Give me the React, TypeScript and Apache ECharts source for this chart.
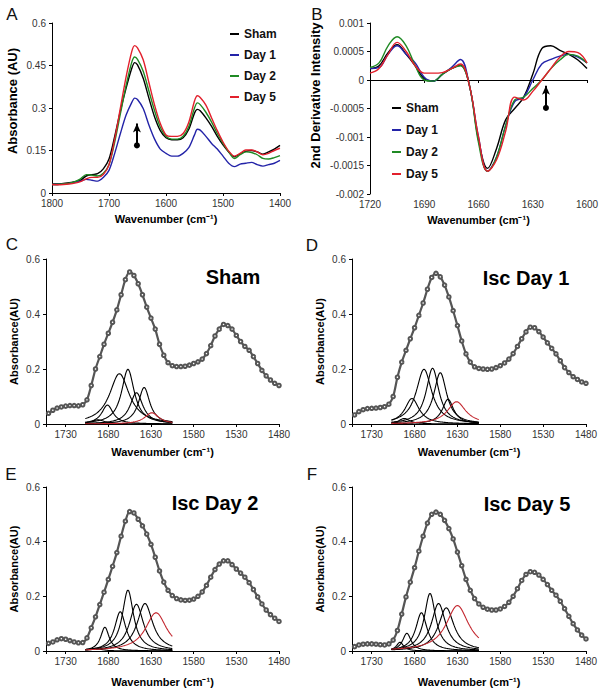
import React, { useEffect, useRef } from "react";
import * as echarts from "echarts";

const FONT = '"Liberation Sans", Arial, sans-serif';

// ---------- Panel A: absorbance spectra ----------
const WN_A = [1800, 1790, 1780, 1770, 1760, 1750, 1740, 1730, 1720, 1710, 1700, 1690, 1680, 1670, 1660, 1655, 1650, 1640, 1630, 1620, 1610, 1600, 1590, 1580, 1570, 1560, 1550, 1545, 1540, 1530, 1520, 1510, 1500, 1490, 1480, 1470, 1460, 1450, 1440, 1430, 1420, 1410, 1400];
const A_SHAM = [0.032, 0.032, 0.034, 0.036, 0.040, 0.045, 0.060, 0.065, 0.068, 0.085, 0.120, 0.200, 0.290, 0.370, 0.440, 0.460, 0.452, 0.405, 0.335, 0.268, 0.220, 0.195, 0.188, 0.188, 0.195, 0.225, 0.282, 0.295, 0.290, 0.265, 0.235, 0.200, 0.170, 0.145, 0.128, 0.138, 0.147, 0.150, 0.145, 0.137, 0.145, 0.155, 0.168];
const A_DAY1 = [0.030, 0.030, 0.032, 0.034, 0.038, 0.042, 0.048, 0.045, 0.042, 0.055, 0.080, 0.140, 0.210, 0.275, 0.320, 0.335, 0.330, 0.298, 0.240, 0.190, 0.155, 0.140, 0.130, 0.130, 0.140, 0.160, 0.205, 0.225, 0.222, 0.200, 0.175, 0.155, 0.130, 0.105, 0.093, 0.102, 0.105, 0.108, 0.100, 0.095, 0.100, 0.105, 0.115];
const A_DAY2 = [0.030, 0.030, 0.032, 0.035, 0.040, 0.050, 0.065, 0.063, 0.060, 0.070, 0.100, 0.180, 0.280, 0.380, 0.462, 0.480, 0.472, 0.430, 0.360, 0.290, 0.232, 0.200, 0.190, 0.190, 0.200, 0.235, 0.300, 0.318, 0.312, 0.285, 0.250, 0.210, 0.175, 0.145, 0.122, 0.135, 0.145, 0.143, 0.135, 0.122, 0.120, 0.125, 0.132];
const A_DAY5 = [0.030, 0.029, 0.030, 0.032, 0.035, 0.040, 0.050, 0.055, 0.055, 0.065, 0.100, 0.190, 0.300, 0.410, 0.500, 0.520, 0.512, 0.470, 0.390, 0.310, 0.245, 0.205, 0.200, 0.200, 0.210, 0.250, 0.325, 0.343, 0.337, 0.310, 0.265, 0.220, 0.180, 0.148, 0.130, 0.140, 0.152, 0.152, 0.145, 0.135, 0.140, 0.150, 0.158];

// ---------- Panel B: second derivative ----------
const WN_B = [1720, 1715, 1710, 1705, 1700, 1695, 1690, 1685, 1680, 1675, 1670, 1665, 1660, 1655, 1650, 1645, 1640, 1635, 1630, 1625, 1620, 1615, 1610, 1605, 1600];
const B_SHAM = [0.0002, 0.00025, 0.00048, 0.00062, 0.00045, 0.00025, 0.00002, -0.00002, 0.0001, 0.0002, 0.00026, -0.0001, -0.00105, -0.00155, -0.0012, -0.0007, -0.0005, -0.0003, 0.0001, 0.00055, 0.0006, 0.00052, 0.00045, 0.00035, 0.0002];
const B_DAY1 = [0.0002, 0.00022, 0.00045, 0.0006, 0.00045, 0.0003, 0.00005, -0.00002, 0.0001, 0.00022, 0.00036, -0.0001, -0.001, -0.0016, -0.00135, -0.0008, -0.00038, -0.0003, 0.0, 0.00028, 0.00036, 0.00042, 0.00045, 0.0004, 0.0003];
const B_DAY2 = [0.00022, 0.0003, 0.0006, 0.00076, 0.0006, 0.00025, 0.0, -0.00002, 0.0001, 0.0002, 0.00025, -0.0001, -0.0011, -0.0016, -0.00135, -0.0008, -0.00035, -0.0003, -0.00015, 0.0, 0.0002, 0.00035, 0.00045, 0.00042, 0.0003];
const B_DAY5 = [0.00012, 0.0002, 0.00045, 0.00066, 0.0005, 0.00025, 0.00012, 0.00012, 0.00013, 0.0002, 0.00028, -0.0001, -0.001, -0.0016, -0.0014, -0.0009, -0.0003, -0.00035, -0.0002, 0.0, 0.0002, 0.0004, 0.0005, 0.00048, 0.0003];

const GROUPS = ["Sham", "Day 1", "Day 2", "Day 5"];
const GROUP_COLORS = ["#000000", "#2323a8", "#1f8a24", "#e2202c"];

// ---------- Panels C-F: measured spectra (open circles), 1750 -> 1480 step 5 ----------
const WN_FIT = [1750, 1745, 1740, 1735, 1730, 1725, 1720, 1715, 1710, 1705, 1700, 1695, 1690, 1685, 1680, 1675, 1670, 1665, 1660, 1655, 1650, 1645, 1640, 1635, 1630, 1625, 1620, 1615, 1610, 1605, 1600, 1595, 1590, 1585, 1580, 1575, 1570, 1565, 1560, 1555, 1550, 1545, 1540, 1535, 1530, 1525, 1520, 1515, 1510, 1505, 1500, 1495, 1490, 1485, 1480];
const C_SPEC = [0.039, 0.050, 0.058, 0.062, 0.065, 0.067, 0.067, 0.066, 0.070, 0.088, 0.140, 0.200, 0.245, 0.290, 0.330, 0.370, 0.415, 0.470, 0.525, 0.553, 0.540, 0.510, 0.470, 0.425, 0.385, 0.345, 0.290, 0.250, 0.223, 0.212, 0.209, 0.209, 0.210, 0.214, 0.220, 0.226, 0.236, 0.256, 0.285, 0.320, 0.345, 0.362, 0.358, 0.345, 0.322, 0.300, 0.282, 0.268, 0.245, 0.220, 0.195, 0.175, 0.160, 0.148, 0.140];
const D_SPEC = [0.033, 0.045, 0.052, 0.056, 0.057, 0.058, 0.060, 0.063, 0.072, 0.100, 0.170, 0.225, 0.268, 0.310, 0.350, 0.395, 0.440, 0.490, 0.533, 0.548, 0.535, 0.505, 0.462, 0.412, 0.358, 0.302, 0.255, 0.225, 0.208, 0.202, 0.200, 0.199, 0.200, 0.205, 0.212, 0.222, 0.236, 0.256, 0.282, 0.310, 0.335, 0.352, 0.350, 0.336, 0.316, 0.295, 0.275, 0.255, 0.230, 0.205, 0.187, 0.172, 0.162, 0.153, 0.148];
const E_SPEC = [0.028, 0.033, 0.041, 0.045, 0.043, 0.038, 0.033, 0.030, 0.031, 0.048, 0.085, 0.125, 0.170, 0.215, 0.262, 0.310, 0.360, 0.420, 0.475, 0.510, 0.505, 0.482, 0.458, 0.428, 0.390, 0.343, 0.293, 0.252, 0.222, 0.203, 0.192, 0.187, 0.185, 0.186, 0.190, 0.200, 0.216, 0.240, 0.270, 0.298, 0.318, 0.330, 0.330, 0.316, 0.300, 0.285, 0.270, 0.250, 0.225, 0.198, 0.172, 0.150, 0.133, 0.120, 0.108];
const F_SPEC = [0.016, 0.022, 0.025, 0.026, 0.026, 0.025, 0.023, 0.022, 0.026, 0.040, 0.075, 0.135, 0.198, 0.252, 0.305, 0.365, 0.420, 0.468, 0.500, 0.508, 0.500, 0.478, 0.448, 0.410, 0.362, 0.312, 0.262, 0.222, 0.192, 0.172, 0.160, 0.153, 0.150, 0.150, 0.154, 0.163, 0.178, 0.200, 0.228, 0.258, 0.280, 0.290, 0.288, 0.278, 0.262, 0.243, 0.222, 0.204, 0.182, 0.155, 0.127, 0.100, 0.077, 0.058, 0.044];

// ---------- Fitted component bands (Lorentzian): centre, height, half-width; last one is red ----------
const C_BAND_CENTER = [1692, 1681, 1667, 1657, 1647, 1638, 1629];
const C_BAND_HEIGHT = [0.015, 0.069, 0.183, 0.199, 0.114, 0.133, 0.041];
const C_BAND_HWHM = [10, 8, 14, 9, 9, 8, 10];
const D_BAND_CENTER = [1692, 1683, 1669, 1659, 1650, 1641, 1631];
const D_BAND_HEIGHT = [0.02, 0.093, 0.199, 0.203, 0.187, 0.09, 0.081];
const D_BAND_HWHM = [8, 10, 11, 9, 9, 8, 13];
const E_BAND_CENTER = [1695, 1684, 1666, 1657, 1647, 1637, 1624];
const E_BAND_HEIGHT = [0.01, 0.087, 0.144, 0.223, 0.171, 0.174, 0.14];
const E_BAND_HWHM = [8, 6, 8, 8, 10, 11, 15];
const F_BAND_CENTER = [1697, 1689, 1672, 1662, 1652, 1643, 1630];
const F_BAND_HEIGHT = [0.032, 0.065, 0.14, 0.211, 0.174, 0.158, 0.166];
const F_BAND_HWHM = [5, 6, 8, 8, 10, 11, 16];
const BAND_RANGE = [1707, 1605];

const PANEL_TITLES = ["Sham", "Isc Day 1", "Isc Day 2", "Isc Day 5"];
const PANEL_LETTERS = ["A", "B", "C", "D", "E", "F"];

const pairs = (xs: number[], ys: number[]) => xs.map((x, i) => [x, ys[i]]);

function bandSeries(centers: number[], heights: number[], hw: number[], idx: number) {
  const xs: number[] = [];
  for (let x = BAND_RANGE[0]; x >= BAND_RANGE[1]; x -= 1) xs.push(x);
  return centers.map((c, k) => ({
    type: "line",
    xAxisIndex: idx,
    yAxisIndex: idx,
    symbol: "none",
    silent: true,
    z: k === centers.length - 1 ? 4 : 3,
    lineStyle: { color: k === centers.length - 1 ? "#c3262e" : "#000", width: 1.1 },
    data: xs.map((x) => [x, heights[k] / (1 + ((x - c) / hw[k]) ** 2)]),
  }));
}

const axisCommon = {
  axisLine: { show: true, lineStyle: { color: "#000", width: 1 } },
  axisTick: { show: true, length: 3, lineStyle: { color: "#000" } },
  splitLine: { show: false },
};
const labelStyle = { color: "#333", fontSize: 10, fontFamily: FONT };
const nameStyleX = { color: "#000", fontSize: 11, fontWeight: "bold", fontFamily: FONT };

function xFit(idx: number) {
  return {
    ...axisCommon,
    type: "value",
    gridIndex: idx,
    min: 1480,
    max: 1753,
    interval: 50,
    inverse: true,
    axisLabel: {
      ...labelStyle,
      margin: 5,
      formatter: (v: number) => (Math.round(v - 1480) % 50 === 0 ? String(Math.round(v)) : ""),
    },
    name: "Wavenumber (cm⁻¹)",
    nameLocation: "middle",
    nameGap: idx >= 4 ? 25 : 22,
    nameTextStyle: { ...nameStyleX, verticalAlign: "top" },
  };
}
function yFit(idx: number) {
  return {
    ...axisCommon,
    type: "value",
    gridIndex: idx,
    min: 0,
    max: 0.6,
    interval: 0.2,
    axisLabel: { ...labelStyle, margin: 6, formatter: (v: number) => String(+v.toFixed(2)) },
    name: "Absorbance(AU)",
    nameLocation: "middle",
    nameGap: 27,
    nameTextStyle: { ...nameStyleX, fontSize: 11 },
  };
}

export default function App() {
  const ref = useRef<HTMLDivElement>(null);
  useEffect(() => {
    if (!ref.current) return;
    const chart = echarts.init(ref.current, undefined, { renderer: "svg" });

    const seriesA = GROUPS.map((g, i) => ({
      name: g,
      type: "line",
      xAxisIndex: 0,
      yAxisIndex: 0,
      symbol: "none",
      smooth: 0.3,
      lineStyle: { color: GROUP_COLORS[i], width: 1.4 },
      itemStyle: { color: GROUP_COLORS[i] },
      data: pairs(WN_A, [A_SHAM, A_DAY1, A_DAY2, A_DAY5][i]),
      markLine:
        i === 0
          ? {
              silent: true,
              symbol: ["circle", "arrow"],
              symbolSize: [6, 9],
              label: { show: false },
              lineStyle: { color: "#000", width: 2, type: "solid" },
              data: [[{ coord: [1651, 0.168] }, { coord: [1651, 0.245] }]],
            }
          : undefined,
    }));
    const seriesB = GROUPS.map((g, i) => ({
      name: g,
      type: "line",
      xAxisIndex: 1,
      yAxisIndex: 1,
      symbol: "none",
      smooth: 0.4,
      lineStyle: { color: GROUP_COLORS[i], width: 1.4 },
      itemStyle: { color: GROUP_COLORS[i] },
      data: pairs(WN_B, [B_SHAM, B_DAY1, B_DAY2, B_DAY5][i]),
      markLine:
        i === 0
          ? {
              silent: true,
              symbol: ["circle", "arrow"],
              symbolSize: [6, 9],
              label: { show: false },
              lineStyle: { color: "#000", width: 2, type: "solid" },
              data: [[{ coord: [1622.7, -0.00049] }, { coord: [1622.7, -0.0001] }]],
            }
          : undefined,
    }));

    const specs = [C_SPEC, D_SPEC, E_SPEC, F_SPEC];
    const bands = [
      [C_BAND_CENTER, C_BAND_HEIGHT, C_BAND_HWHM],
      [D_BAND_CENTER, D_BAND_HEIGHT, D_BAND_HWHM],
      [E_BAND_CENTER, E_BAND_HEIGHT, E_BAND_HWHM],
      [F_BAND_CENTER, F_BAND_HEIGHT, F_BAND_HWHM],
    ];
    const fitSeries: any[] = [];
    specs.forEach((s, k) => {
      const idx = k + 2;
      fitSeries.push({
        name: PANEL_TITLES[k],
        type: "line",
        xAxisIndex: idx,
        yAxisIndex: idx,
        symbol: "emptyCircle",
        symbolSize: 3.5,
        showAllSymbol: true,
        smooth: 0.3,
        z: 2,
        lineStyle: { color: "#555", width: 2.2 },
        itemStyle: { color: "#555", borderWidth: 0.8 },
        data: pairs(WN_FIT, s),
      });
      fitSeries.push(...bandSeries(bands[k][0], bands[k][1], bands[k][2], idx));
    });

    const letterPos = [
      [12, 14], [317, 14], [12, 244], [312, 245], [11, 474], [312, 474],
    ];
    const titlePos = [
      [233, 277], [526, 278], [215, 503], [527, 504],
    ];

    const option: any = {
      animation: false,
      backgroundColor: "#fff",
      textStyle: { fontFamily: FONT },
      grid: [
        { left: 52, top: 23, width: 228, height: 170 },
        { left: 370, top: 23, width: 217, height: 171 },
        { left: 46, top: 259, width: 233, height: 165 },
        { left: 352, top: 259, width: 234, height: 165 },
        { left: 46, top: 487, width: 233, height: 164 },
        { left: 352, top: 487, width: 234, height: 164 },
      ],
      legend: [
        {
          left: 225, top: 23, orient: "vertical", icon: "rect", itemWidth: 9, itemHeight: 2,
          itemGap: 9, selectedMode: false, data: GROUPS,
          textStyle: { fontSize: 12, fontWeight: "bold", color: "#111", fontFamily: FONT },
        },
        {
          left: 387, top: 97, orient: "vertical", icon: "rect", itemWidth: 9, itemHeight: 2,
          itemGap: 10, selectedMode: false, data: GROUPS,
          textStyle: { fontSize: 12, fontWeight: "bold", color: "#111", fontFamily: FONT },
        },
      ],
      xAxis: [
        {
          ...axisCommon, type: "value", gridIndex: 0, min: 1400, max: 1800, interval: 100, inverse: true,
          axisLabel: { ...labelStyle, margin: 5, formatter: (v: number) => String(Math.round(v)) },
          name: "Wavenumber (cm⁻¹)", nameLocation: "middle", nameGap: 20,
          nameTextStyle: { ...nameStyleX, verticalAlign: "top" },
        },
        {
          ...axisCommon, type: "value", gridIndex: 1, min: 1600, max: 1720, interval: 30, inverse: true,
          axisLabel: { ...labelStyle, margin: 5, formatter: (v: number) => String(Math.round(v)) },
          name: "Wavenumber (cm⁻¹)", nameLocation: "middle", nameGap: 20,
          nameTextStyle: { ...nameStyleX, verticalAlign: "top" },
        },
        xFit(2), xFit(3), xFit(4), xFit(5),
      ],
      yAxis: [
        {
          ...axisCommon, type: "value", gridIndex: 0, min: 0, max: 0.6, interval: 0.15,
          axisLabel: { ...labelStyle, margin: 6, formatter: (v: number) => String(+v.toFixed(2)) },
          name: "Absorbance (AU)", nameLocation: "middle", nameGap: 33,
          nameTextStyle: { ...nameStyleX, fontSize: 13, padding: [0, 0, 0, 14] },
        },
        {
          ...axisCommon, type: "value", gridIndex: 1, min: -0.002, max: 0.001, interval: 0.0005,
          axisLabel: { ...labelStyle, margin: 6, formatter: (v: number) => String(+v.toFixed(4)) },
          name: "2nd Derivative Intensity", nameLocation: "middle", nameGap: 48,
          nameTextStyle: { ...nameStyleX, fontSize: 13, padding: [0, 0, 0, 26] },
        },
        yFit(2), yFit(3), yFit(4), yFit(5),
      ],
      series: [...seriesA, ...seriesB, ...fitSeries],
      graphic: [
        ...PANEL_LETTERS.map((t, i) => ({
          type: "text",
          x: letterPos[i][0],
          y: letterPos[i][1],
          silent: true,
          style: {
            text: t, fill: "#111", fontSize: 17, fontFamily: FONT,
            align: "center", verticalAlign: "middle", textAlign: "center", textVerticalAlign: "middle",
          },
        })),
        ...PANEL_TITLES.map((t, i) => ({
          type: "text",
          x: titlePos[i][0],
          y: titlePos[i][1],
          silent: true,
          style: {
            text: t, fill: "#000", fontSize: 20, fontWeight: "bold", fontFamily: FONT,
            align: "center", verticalAlign: "middle", textAlign: "center", textVerticalAlign: "middle",
          },
        })),
      ],
    };
    chart.setOption(option);
    return () => chart.dispose();
  }, []);

  return (
    <div
      ref={ref}
      style={{ position: "absolute", left: 0, top: 0, width: 603, height: 694, background: "#fff" }}
    />
  );
}
